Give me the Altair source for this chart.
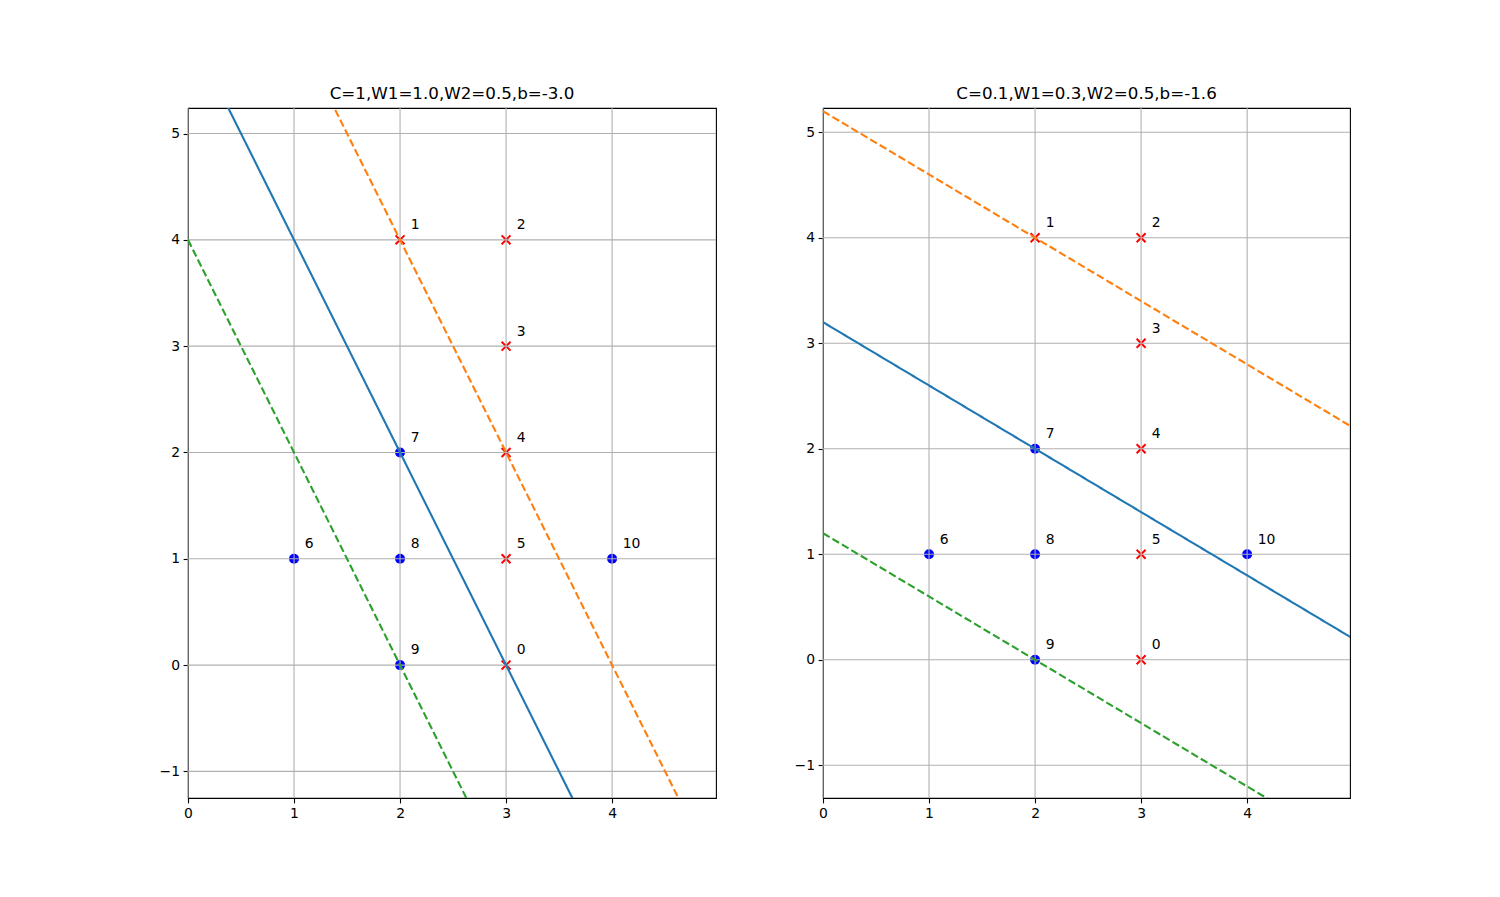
import altair as alt
import pandas as pd

# ---- data ----
panel_titles = ["C=1,W1=1.0,W2=0.5,b=-3.0", "C=0.1,W1=0.3,W2=0.5,b=-1.6"]
W1 = [1.0, 0.3]
W2 = [0.5, 0.5]
B = [-3.0, -1.6]
x_domains = [[0, 4.98], [0, 4.97]]
y_domains = [[-1.25, 5.24], [-1.31, 5.23]]
panel_widths = [528, 527]

x_ticks = [0, 1, 2, 3, 4]
y_ticks = [-1, 0, 1, 2, 3, 4, 5]

pt_x = [3, 2, 3, 3, 3, 3, 1, 2, 2, 2, 4]
pt_y = [0, 4, 4, 3, 2, 1, 1, 2, 1, 0, 1]
pt_label = ["0", "1", "2", "3", "4", "5", "6", "7", "8", "9", "10"]
pt_class = ["neg", "neg", "neg", "neg", "neg", "neg", "pos", "pos", "pos", "pos", "pos"]

line_kinds = ["margin+", "boundary", "margin-"]
line_offsets = [1, 0, -1]
line_colors = ["#ff7f0e", "#1f77b4", "#2ca02c"]
line_x_ends = [0, 5]

X_PATH = "M-1,-1L1,1M-1,1L1,-1"

pts = pd.DataFrame({"x": pt_x, "y": pt_y, "label": pt_label, "cls": pt_class})
pts["lx"] = pts["x"] + 0.1
pts["ly"] = pts["y"] + 0.1


def panel(i):
    rows = []
    for k, off in zip(line_kinds, line_offsets):
        for xv in line_x_ends:
            rows.append({"kind": k, "x": xv, "y": (off - B[i] - W1[i] * xv) / W2[i]})
    lines = pd.DataFrame(rows)

    xs = alt.Scale(domain=x_domains[i], nice=False, zero=False)
    ys = alt.Scale(domain=y_domains[i], nice=False, zero=False)
    xa = alt.Axis(values=x_ticks, title=None, grid=False, labelFlush=False)
    ya = alt.Axis(values=y_ticks, title=None, grid=False, labelFlush=False)

    circles = alt.Chart(pts[pts["cls"] == "pos"]).mark_point(
        shape="circle", filled=True, color="#0000ff", size=100, opacity=1
    ).encode(x=alt.X("x:Q", scale=xs, axis=xa), y=alt.Y("y:Q", scale=ys, axis=ya))

    crosses = alt.Chart(pts[pts["cls"] == "neg"]).mark_point(
        shape=X_PATH, filled=False, color="#ff0000", size=80, strokeWidth=2, opacity=1
    ).encode(x=alt.X("x:Q", scale=xs, axis=xa), y=alt.Y("y:Q", scale=ys, axis=ya))

    gx = alt.Chart(pd.DataFrame({"v": x_ticks})).mark_rule(
        color="#b0b0b0", strokeWidth=1.1
    ).encode(x=alt.X("v:Q", scale=xs, axis=xa))
    gy = alt.Chart(pd.DataFrame({"v": y_ticks})).mark_rule(
        color="#b0b0b0", strokeWidth=1.1
    ).encode(y=alt.Y("v:Q", scale=ys, axis=ya))

    ln = alt.Chart(lines).mark_line(clip=True, strokeWidth=2.1).encode(
        x=alt.X("x:Q", scale=xs, axis=xa),
        y=alt.Y("y:Q", scale=ys, axis=ya),
        color=alt.Color("kind:N", scale=alt.Scale(domain=line_kinds, range=line_colors), legend=None),
        strokeDash=alt.StrokeDash(
            "kind:N",
            scale=alt.Scale(domain=line_kinds, range=[[7.7, 3.3], [1, 0], [7.7, 3.3]]),
            legend=None,
        ),
        detail="kind:N",
    )

    txt = alt.Chart(pts).mark_text(
        align="left", baseline="alphabetic", font="DejaVu Sans", fontSize=13.9, color="black"
    ).encode(x=alt.X("lx:Q", scale=xs, axis=xa), y=alt.Y("ly:Q", scale=ys, axis=ya), text="label:N")

    return alt.layer(circles, crosses, gx, gy, ln, txt).properties(
        width=panel_widths[i],
        height=690,
        title=alt.TitleParams(
            panel_titles[i], font="DejaVu Sans", fontSize=16.7, fontWeight="normal",
            color="black", anchor="middle", baseline="alphabetic", offset=-8,
        ),
    )


chart = alt.hconcat(panel(0), panel(1), spacing=75).properties(
    padding={"left": 150, "top": 77, "right": 10, "bottom": 10}
).configure_view(stroke="black", strokeWidth=1.1).configure_axis(
    labelFont="DejaVu Sans", labelFontSize=13.9, labelColor="black",
    tickColor="black", tickSize=4.9, tickWidth=1.1, labelPadding=3.5, domain=False,
)

chart.save("out.html", embed_options={"renderer": "svg", "actions": False})
